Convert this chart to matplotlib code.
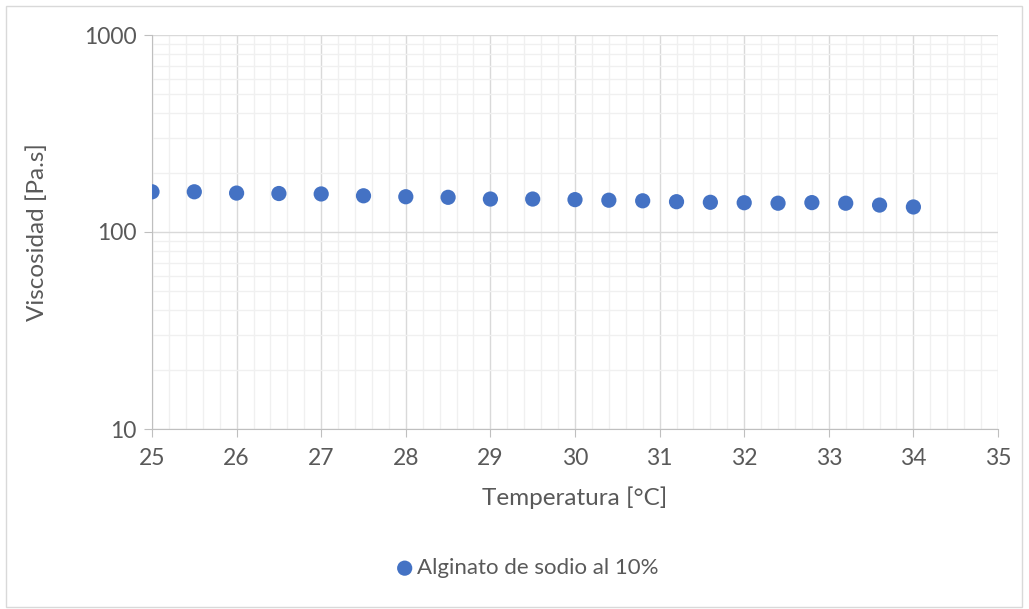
import matplotlib
matplotlib.use("Agg")
import matplotlib.pyplot as plt
from matplotlib.ticker import MultipleLocator, LogLocator, NullFormatter, FixedLocator, FixedFormatter
from matplotlib.patches import Rectangle

temperatura = [25, 25.5, 26, 26.5, 27, 27.5, 28, 28.5, 29, 29.5, 30,
               30.4, 30.8, 31.2, 31.6, 32, 32.4, 32.8, 33.2, 33.6, 34]
viscosidad = [160, 160, 157.6, 156.8, 156, 152.7, 151, 150, 147, 147, 146,
              145, 144, 142.5, 141.5, 140.8, 140, 141, 140, 137, 134]
serie = "Alginato de sodio al 10%"
x_ticks = [25, 26, 27, 28, 29, 30, 31, 32, 33, 34, 35]
y_ticks = [10, 100, 1000]

plt.rcParams['font.family'] = ['Lato', 'DejaVu Sans']
W, H = 1029, 609
fig = plt.figure(figsize=(W / 100, H / 100), dpi=100)
ax = fig.add_axes([152 / W, 1 - 429 / H, (998 - 152) / W, (429 - 35) / H])

text_color = '#595959'
ax.scatter(temperatura, viscosidad, s=120, color='#4472C4', zorder=3, label=serie,
           edgecolors='none')
ax.set_yscale('log')
ax.set_xlim(25, 35)
ax.set_ylim(10, 1000)

ax.xaxis.set_major_locator(FixedLocator(x_ticks))
ax.xaxis.set_minor_locator(MultipleLocator(0.2))
ax.yaxis.set_major_locator(FixedLocator(y_ticks))
ax.yaxis.set_major_formatter(FixedFormatter([str(v) for v in y_ticks]))
ax.yaxis.set_minor_locator(LogLocator(base=10, subs=range(2, 10)))
ax.yaxis.set_minor_formatter(NullFormatter())

ax.grid(which='major', color='#d9d9d9', linewidth=1.0, zorder=1)
ax.grid(which='minor', color='#f0f0f0', linewidth=1.0, zorder=0)
ax.set_axisbelow(True)

for s in ['top', 'right']:
    ax.spines[s].set_visible(False)
ax.spines['left'].set_color('#bfbfbf')
ax.spines['bottom'].set_color('#bfbfbf')
ax.tick_params(which='major', length=6, color='#bfbfbf', labelcolor=text_color,
               labelsize=16.5, direction='out', pad=5)
ax.tick_params(which='minor', length=0)
ax.tick_params(axis='x', pad=8)

ax.set_xlabel('Temperatura [°C]', fontsize=17.5, color=text_color, labelpad=12)
ax.set_ylabel('Viscosidad [Pa.s]', fontsize=17.5, color=text_color, labelpad=26)

leg = fig.legend(loc='center', bbox_to_anchor=(526 / W, 1 - 568 / H), frameon=False,
                 fontsize=16, handletextpad=0.05, markerscale=1.0,
                 handlelength=1.0)
for t in leg.get_texts():
    t.set_color(text_color)

fig.patches.append(Rectangle((6 / W, 1 - 607 / H), (1022 - 6) / W, (607 - 6) / H,
                             transform=fig.transFigure, fill=False,
                             edgecolor='#d9d9d9', linewidth=1.0))

fig.savefig('out.png', dpi=100, facecolor='white')
